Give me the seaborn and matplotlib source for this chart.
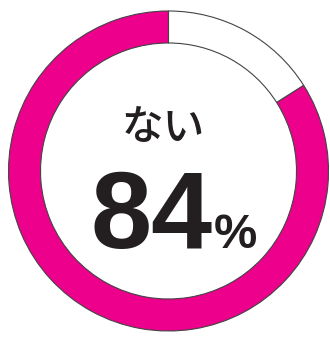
import matplotlib
matplotlib.use("Agg")
import matplotlib.pyplot as plt
import seaborn as sns

labels = ["ない", "ある"]
values = [84, 16]
colors = ["#EC008C", "#FFFFFF"]
center_label = "ない"
center_value = "84"

sns.set_style("white")
plt.rcParams['font.family'] = ['Noto Sans CJK JP', 'DejaVu Sans']

fig = plt.figure(figsize=(3.30, 3.37), dpi=100)
ax = fig.add_axes([0.0258, 0.0178, 0.9697, 0.9496])
ax.pie(values, colors=colors, startangle=90, counterclock=True,
       radius=1.0,
       wedgeprops=dict(width=0.2, edgecolor="#444444", linewidth=0.8))
ax.set_xlim(-1, 1)
ax.set_ylim(-1, 1)
ax.set_aspect("equal")
ax.axis("off")

ax.text(-0.03, 0.27, center_label, ha="center", va="center", fontsize=30,
        color="#231F20", fontweight="medium",
        family=['Noto Sans CJK JP', 'DejaVu Sans'])
ax.text(0.275, -0.48, center_value, ha="right", va="baseline", fontsize=79,
        fontweight="bold", color="#231F20", family=['Liberation Sans', 'DejaVu Sans'])
ax.text(0.28, -0.48, "%", ha="left", va="baseline", fontsize=35,
        fontweight="bold", color="#231F20", family=['Liberation Sans', 'DejaVu Sans'])

fig.savefig("out.png", dpi=100)
